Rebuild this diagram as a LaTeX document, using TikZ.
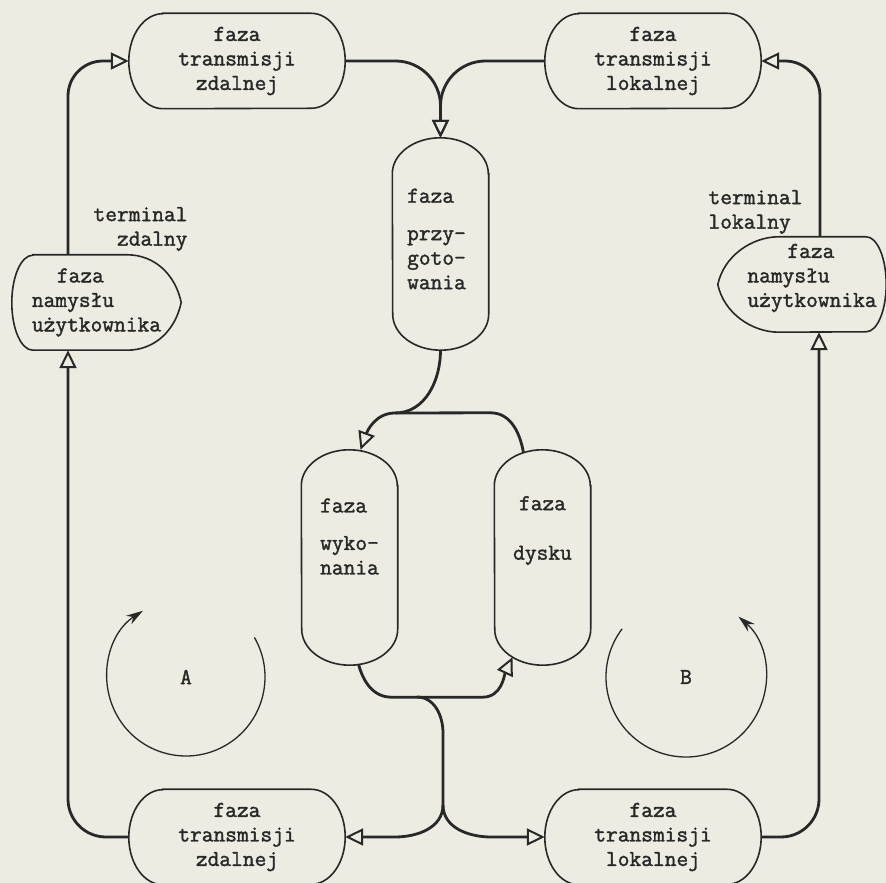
\documentclass[tikz,border=0pt]{standalone}
\usepackage{fontspec}
\usepackage{xcolor}
\usepackage{tikz}
\usetikzlibrary{arrows.meta, calc, positioning}

\newfontfamily\typefont{Latin Modern Mono}[FakeBold=1.6]
\definecolor{paper}{RGB}{236,236,227}
\definecolor{ink}{RGB}{40,40,40}

\begin{document}
\begin{tikzpicture}[x=1pt, y=1pt,
  phasetext/.style={font=\typefont\fontsize{22.8}{24.5}\selectfont, text=ink},
  hphase/.style={phasetext, minimum width=216pt, minimum height=95pt, inner sep=0pt, align=center},
  vphase/.style={minimum width=96pt, minimum height=215pt, inner sep=0pt},
  thinkphase/.style={phasetext, minimum width=169pt, minimum height=95pt, inner sep=0pt, align=left},
  outline/.style={draw=ink, line width=1.6pt},
  link/.style={draw=ink, line width=2.8pt},
  flow/.style={link, -{Triangle[open, length=18pt, width=17pt, line width=2pt]}},
  cyclearc/.style={draw=ink, line width=1.3pt, -{Stealth[length=17pt, width=10pt]}}]

\fill[paper] (0,0) rectangle (886,883);
\useasboundingbox (0,0) rectangle (886,883);

% top row
\node[hphase] (tzTop) at (237,822) {faza\\transmisji\\zdalnej};
\node[hphase] (tlTop) at (653,822) {faza\\transmisji\\lokalnej};
\node[vphase, minimum height=212pt,
  label={[phasetext, align=left, xshift=-4pt, yshift=5pt]center:faza\\[13pt]przy-\\goto-\\wania}] (przyg) at (440.5,639) {};

% user phases
\node[thinkphase] (nmL) at (96.5,580.5) {\hspace*{25pt}faza\\namysłu\\użytkownika};
\node[thinkphase, minimum width=168pt,
  label={[phasetext, align=left, xshift=10pt, yshift=6.5pt]center:\hspace*{40pt}faza\\namysłu\\użytkownika}] (nmR) at (802,598.5) {};
\node[phasetext, align=right, anchor=east] (termZ) at (191,654) {terminal\\zdalny};
\node[phasetext, align=left, anchor=west] (termL) at (705,671) {terminal\\lokalny};

% middle
\node[vphase,
  label={[phasetext, align=left, yshift=21pt]center:faza\\[13pt]wyko-\\nania}] (wyk) at (349.5,325.5) {};
\node[vphase,
  label={[phasetext, align=center, yshift=27pt]center:faza\\[25pt]dysku}] (dys) at (542.5,325.5) {};
\node[phasetext] (loopA) at (186,206) {A};
\node[phasetext] (loopB) at (686,206) {B};

% bottom row
\node[hphase] (tzBot) at (237,46) {faza\\transmisji\\zdalnej};
\node[hphase] (tlBot) at (653,46) {faza\\transmisji\\lokalnej};

% outlines
\foreach \n in {tzTop,tlTop,tzBot,tlBot}
  \draw[outline] ([xshift=34pt]\n.north west) -- ([xshift=-34pt]\n.north east)
    arc[start angle=90, end angle=-90, x radius=34pt, y radius=47.5pt]
    -- ([xshift=34pt]\n.south west)
    arc[start angle=270, end angle=90, x radius=34pt, y radius=47.5pt] -- cycle;
\foreach \n in {przyg,wyk,dys}
  \draw[outline] ([yshift=-36pt]\n.north east) -- ([yshift=36pt]\n.south east)
    arc[start angle=0, end angle=-180, x radius=48pt, y radius=36pt]
    -- ([yshift=-36pt]\n.north west)
    arc[start angle=180, end angle=0, x radius=48pt, y radius=36pt] -- cycle;
\draw[outline] ([xshift=21pt]nmL.north west) -- ([xshift=-54pt]nmL.north east)
  .. controls +(27pt,0pt) and +(-6pt,28.5pt) .. (nmL.east)
  .. controls +(-6pt,-28.5pt) and +(27pt,0pt) .. ([xshift=-54pt]nmL.south east)
  -- ([xshift=21pt]nmL.south west)
  arc[start angle=270, end angle=90, x radius=21pt, y radius=47.5pt] -- cycle;
\draw[outline] ([xshift=61pt]nmR.north west) -- ([xshift=-20pt]nmR.north east)
  arc[start angle=90, end angle=-90, x radius=20pt, y radius=47.5pt]
  -- ([xshift=61pt]nmR.south west)
  .. controls +(-27pt,0pt) and +(6pt,-28.5pt) .. (nmR.west)
  .. controls +(6pt,28.5pt) and +(-27pt,0pt) .. cycle;

% outer ring
\draw[flow, rounded corners=35pt] ([xshift=-28.5pt]nmL.north) |- (tzTop.west);
\draw[flow, rounded corners=45pt] (tzTop.east) -| (przyg.north);
\draw[flow, rounded corners=45pt] (tlTop.west) -| (przyg.north);
\draw[flow, rounded corners=35pt] ([xshift=18pt]nmR.north) |- (tlTop.east);
\draw[flow, rounded corners=38pt] (tlBot.east) -| ([xshift=17pt]nmR.south);
\draw[flow, rounded corners=38pt] (tzBot.west) -| ([xshift=-28.5pt]nmL.south);

% inner forks
\coordinate (forkTop) at (395,470);
\coordinate (forkLow) at (417,186);
\coordinate (forkBot) at (443,78);
\draw[flow] (przyg.south) to[out=-90,in=0] (forkTop) to[out=180,in=70] ([xshift=11pt]wyk.north);
\draw[link] ([shift={(-19pt,-3pt)}]dys.north) to[out=100,in=0] ++(-33,40) -- (forkTop);
\draw[flow] ([shift={(9pt,1pt)}]wyk.south) to[out=-75,in=180] ++(33,-33) -- ++(91,0)
  to[out=0,in=-115] ([shift={(-30pt,8pt)}]dys.south);
\draw[link] (forkLow) to[out=0,in=90] ++(26,-36) -- (forkBot);
\draw[flow] (forkBot) to[out=-90,in=0] ++(-48,-32) -- (tzBot.east);
\draw[flow] (forkBot) to[out=-90,in=180] ++(48,-32) -- (tlBot.west);

% cycles A and B
\draw[cyclearc] ([shift={(30:79pt)}]loopA.center) arc[start angle=30, end angle=-237, radius=79pt];
\draw[cyclearc] ([shift={(143:80pt)}]loopB.center) arc[start angle=143, end angle=409, radius=80pt];

\end{tikzpicture}
\end{document}
